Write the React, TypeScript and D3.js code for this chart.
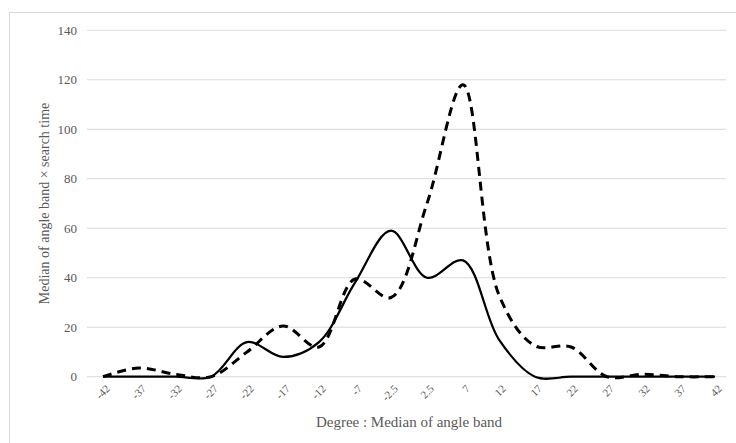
import React, { useEffect, useRef } from 'react';
import * as d3 from 'd3';

const degrees = ['-42', '-37', '-32', '-27', '-22', '-17', '-12', '-7', '-2.5', '2.5', '7', '12', '17', '22', '27', '32', '37', '42'];
const solidValues = [0, 0, 0, 0, 14, 8, 14, 38, 59, 40, 47, 15, 0, 0, 0, 0, 0, 0];
const dashedValues = [0, 3.5, 1, 0, 10, 20.5, 12, 39.5, 32, 70, 118, 33, 12.5, 12, 0, 1, 0, 0];
const yTicks = [0, 20, 40, 60, 80, 100, 120, 140];

const width = 736;
const height = 443;
const margin = { top: 30, right: 3, bottom: 67, left: 85 };
const textColor = '#595959';
const font = '"Liberation Serif", "Times New Roman", serif';

export default function App() {
  const svgRef = useRef<SVGSVGElement>(null);

  useEffect(() => {
    const svg = d3.select(svgRef.current);
    svg.selectAll('*').remove();

    const x = d3.scaleBand<string>()
      .domain(degrees)
      .range([margin.left, width - margin.right]);

    const y = d3.scaleLinear()
      .domain([0, 140])
      .range([height - margin.bottom + 0.7, margin.top + 0.3]);

    // outer frame
    svg.append('rect')
      .attr('x', 9.5)
      .attr('y', 12.5)
      .attr('width', width)
      .attr('height', height)
      .attr('fill', 'none')
      .attr('stroke', '#d9d9d9');

    // gridlines
    svg.append('g')
      .selectAll('line')
      .data(yTicks)
      .join('line')
      .attr('x1', margin.left + 2)
      .attr('x2', width - 10)
      .attr('y1', d => y(d))
      .attr('y2', d => y(d))
      .attr('stroke', '#d9d9d9')
      .attr('stroke-width', 1);

    // y tick labels
    svg.append('g')
      .selectAll('text')
      .data(yTicks)
      .join('text')
      .attr('x', 77)
      .attr('y', d => y(d))
      .attr('dy', '0.35em')
      .attr('text-anchor', 'end')
      .attr('fill', textColor)
      .style('font-family', font)
      .style('font-size', '13px')
      .text(d => d);

    // x tick labels, rotated
    svg.append('g')
      .selectAll('text')
      .data(degrees)
      .join('text')
      .attr('transform', d => `translate(${x(d)! + x.bandwidth() / 2 + 5},${y(0) + 10}) rotate(-45)`)
      .attr('text-anchor', 'end')
      .attr('dy', '0.35em')
      .attr('fill', textColor)
      .style('font-family', font)
      .style('font-size', '11px')
      .text(d => d);

    const line = d3.line<number>()
      .x((_, i) => x(degrees[i])! + x.bandwidth() / 2)
      .y(d => y(d))
      .curve(d3.curveCatmullRom.alpha(0.5));

    svg.append('path')
      .datum(solidValues)
      .attr('d', line)
      .attr('fill', 'none')
      .attr('stroke', '#000')
      .attr('stroke-width', 2.25);

    svg.append('path')
      .datum(dashedValues)
      .attr('d', line)
      .attr('fill', 'none')
      .attr('stroke', '#000')
      .attr('stroke-width', 3)
      .attr('stroke-dasharray', '9,6');

    // axis titles
    svg.append('text')
      .attr('transform', `translate(44,${(y(0) + y(140)) / 2}) rotate(-90)`)
      .attr('text-anchor', 'middle')
      .attr('dy', '0.35em')
      .attr('fill', textColor)
      .style('font-family', font)
      .style('font-size', '14px')
      .text('Median of angle band × search time');

    svg.append('text')
      .attr('x', 409)
      .attr('y', 422)
      .attr('text-anchor', 'middle')
      .attr('dy', '0.35em')
      .attr('fill', textColor)
      .style('font-family', font)
      .style('font-size', '15px')
      .text('Degree : Median of angle band');
  }, []);

  return (
    <svg
      ref={svgRef}
      width={width}
      height={height}
      style={{ position: 'absolute', left: 0, top: 0, background: '#fff' }}
    />
  );
}
